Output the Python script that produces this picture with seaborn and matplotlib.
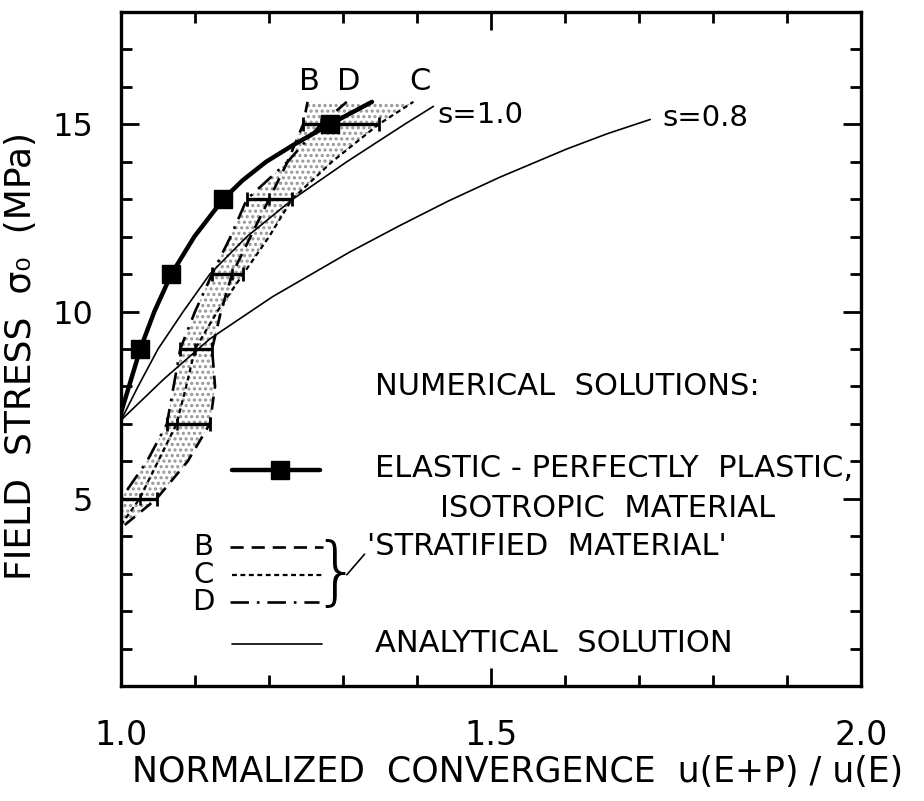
import numpy as np
import matplotlib
matplotlib.use("Agg")
import matplotlib.pyplot as plt
import seaborn as sns

# Elastic-perfectly plastic, isotropic material (numerical solution)
epp_conv = [1.000, 1.026, 1.045, 1.068, 1.099, 1.138, 1.164, 1.196, 1.232, 1.282, 1.339]
epp_stress = [7.3, 9.0, 10.0, 11.0, 12.0, 13.0, 13.5, 14.0, 14.44, 15.0, 15.6]
epp_marker_idx = [1, 3, 5, 9]

# Analytical solutions
s10_conv = [1.000, 1.023, 1.050, 1.084, 1.120, 1.170, 1.232, 1.305, 1.383, 1.422]
s10_stress = [7.1, 8.0, 9.0, 10.0, 11.0, 12.0, 13.0, 14.0, 15.0, 15.48]
s08_conv = [1.000, 1.058, 1.120, 1.205, 1.309, 1.377, 1.442, 1.512, 1.602, 1.657, 1.715]
s08_stress = [7.1, 8.2, 9.27, 10.4, 11.59, 12.30, 12.95, 13.59, 14.34, 14.75, 15.13]

# Stratified material, cases B, C and D
strat_stress = [4.3, 5.0, 6.0, 7.0, 8.0, 9.0, 10.0, 11.0, 12.0, 13.0, 14.0, 15.0, 15.6]
conv_B = [1.005, 1.048, 1.090, 1.120, 1.127, 1.123, 1.135, 1.150, 1.175, 1.200, 1.225, 1.246, 1.252]
conv_C = [1.000, 1.025, 1.050, 1.075, 1.088, 1.100, 1.130, 1.165, 1.200, 1.231, 1.285, 1.348, 1.395]
conv_D = [1.000, 1.000, 1.035, 1.062, 1.071, 1.080, 1.100, 1.123, 1.148, 1.170, 1.225, 1.270, 1.305]
bar_levels = [5.0, 7.0, 9.0, 11.0, 13.0, 15.0]

x_ticks_major = [1.0, 1.5, 2.0]
x_tick_labels = ["1.0", "1.5", "2.0"]
y_ticks_major = [5, 10, 15]
y_tick_labels = ["5", "10", "15"]

sns.set_theme(style="ticks")
ink = "black"
plt.rcParams.update({
    "font.family": ["DejaVu Sans"],
    "hatch.linewidth": 1.5,
    "text.color": ink,
    "axes.labelcolor": ink,
    "xtick.color": ink,
    "ytick.color": ink,
    "axes.edgecolor": ink,
})

fig = plt.figure(figsize=(9.24, 8.01), dpi=100)
ax = fig.add_axes([0.131, 0.1436, 0.801, 0.8414])

dash_B = (0, (5, 3))
dash_C = (0, (2.2, 1.6))
dash_D = (0, (7, 3, 1, 3))

# stippled band spanning the stratified solutions
strat = np.array([conv_B, conv_C, conv_D])
lo = strat.min(axis=0)
hi = strat.max(axis=0)
ax.fill_betweenx(strat_stress, lo, hi, facecolor="white", hatch="...",
                 edgecolor="#959595", linewidth=0, zorder=1)

# analytical curves
sns.lineplot(x=s10_conv, y=s10_stress, sort=False, estimator=None, ax=ax,
             color=ink, linewidth=1.2, zorder=3)
sns.lineplot(x=s08_conv, y=s08_stress, sort=False, estimator=None, ax=ax,
             color=ink, linewidth=1.2, zorder=3)

# stratified curves
sns.lineplot(x=conv_B, y=strat_stress, sort=False, estimator=None, ax=ax,
             color=ink, linewidth=1.9, linestyle=dash_B, zorder=4)
sns.lineplot(x=conv_C, y=strat_stress, sort=False, estimator=None, ax=ax,
             color=ink, linewidth=1.6, linestyle=dash_C, zorder=4)
sns.lineplot(x=conv_D, y=strat_stress, sort=False, estimator=None, ax=ax,
             color=ink, linewidth=1.9, linestyle=dash_D, zorder=4)

# range bars at the computed stress levels
idx = [strat_stress.index(v) for v in bar_levels]
bar_lo = lo[idx]
bar_hi = hi[idx]
ax.errorbar(bar_lo, bar_levels, xerr=[np.zeros(len(idx)), bar_hi - bar_lo],
            fmt="none", ecolor=ink, elinewidth=2.4, capsize=5, capthick=2.0,
            zorder=5)
mid = np.median(strat[:, idx], axis=0)
ax.scatter(mid, bar_levels, marker="|", s=70, color=ink, linewidths=1.8,
           zorder=5)

# elastic-perfectly plastic curve with its computed points
sns.lineplot(x=epp_conv, y=epp_stress, sort=False, estimator=None, ax=ax,
             color=ink, linewidth=3.2, zorder=6)
ax.plot(np.array(epp_conv)[epp_marker_idx], np.array(epp_stress)[epp_marker_idx],
        linestyle="none", marker="s", markersize=13, color=ink, zorder=7)

# curve labels
lab = dict(fontsize=22, color=ink)
ax.text(1.255, 16.15, "B", ha="center", va="center", **lab)
ax.text(1.307, 16.15, "D", ha="center", va="center", **lab)
ax.text(1.404, 16.15, "C", ha="center", va="center", **lab)
ax.text(1.427, 15.24, "s=1.0", ha="left", va="center", fontsize=21, color=ink)
ax.text(1.732, 15.16, "s=0.8", ha="left", va="center", fontsize=21, color=ink)

# key
key = dict(fontsize=22, color=ink, ha="left", va="center")
ax.text(1.343, 8.01, "NUMERICAL  SOLUTIONS:", **key)
ax.plot([1.150, 1.269], [5.77, 5.77], color=ink, linewidth=3.2)
ax.plot([1.215], [5.77], marker="s", markersize=13, color=ink)
ax.text(1.343, 5.80, "ELASTIC - PERFECTLY  PLASTIC,", **key)
ax.text(1.431, 4.73, "ISOTROPIC  MATERIAL", **key)
ax.text(1.111, 3.72, "B", ha="center", va="center", fontsize=21, color=ink)
ax.text(1.111, 2.97, "C", ha="center", va="center", fontsize=21, color=ink)
ax.text(1.111, 2.23, "D", ha="center", va="center", fontsize=21, color=ink)
ax.plot([1.147, 1.273], [3.72, 3.72], color=ink, linewidth=1.9, linestyle=dash_B)
ax.plot([1.150, 1.272], [2.97, 2.97], color=ink, linewidth=1.6, linestyle=dash_C)
ax.plot([1.147, 1.268], [2.23, 2.23], color=ink, linewidth=1.9, linestyle=dash_D)
ax.text(1.290, 2.97, "}", ha="center", va="center", fontsize=54, color=ink,
        fontweight="light")
ax.plot([1.305, 1.329], [2.97, 3.52], color=ink, linewidth=1.2)
ax.text(1.332, 3.72, "'STRATIFIED  MATERIAL'", **key)
ax.plot([1.150, 1.271], [1.13, 1.13], color=ink, linewidth=1.2)
ax.text(1.343, 1.13, "ANALYTICAL  SOLUTION", **key)

# axes, ticks and labels
ax.set_xlim(1.0, 2.0)
ax.set_ylim(0, 18)
ax.set_xticks(x_ticks_major)
ax.set_xticklabels(x_tick_labels)
ax.set_xticks(np.arange(1.0, 2.0001, 0.1), minor=True)
ax.set_yticks(y_ticks_major)
ax.set_yticklabels(y_tick_labels)
ax.set_yticks(np.arange(0, 18.001, 1), minor=True)
ax.tick_params(which="both", direction="in", top=True, right=True,
               color=ink, width=2.0)
ax.tick_params(which="major", length=13, labelsize=24)
ax.tick_params(axis="x", which="major", pad=24)
ax.tick_params(axis="y", which="major", pad=20, labelsize=23)
ax.tick_params(which="minor", length=8)
for sp in ax.spines.values():
    sp.set_linewidth(2.4)
    sp.set_color(ink)

ax.set_xlabel("NORMALIZED  CONVERGENCE  u(E+P) / u(E)", fontsize=25, color=ink)
ax.xaxis.set_label_coords(0.536, -0.102)
ax.set_ylabel("FIELD  STRESS  σ₀  (MPa)", fontsize=26, color=ink)
ax.yaxis.set_label_coords(-0.112, 0.49)

fig.savefig("out.png", dpi=100, facecolor="white")
